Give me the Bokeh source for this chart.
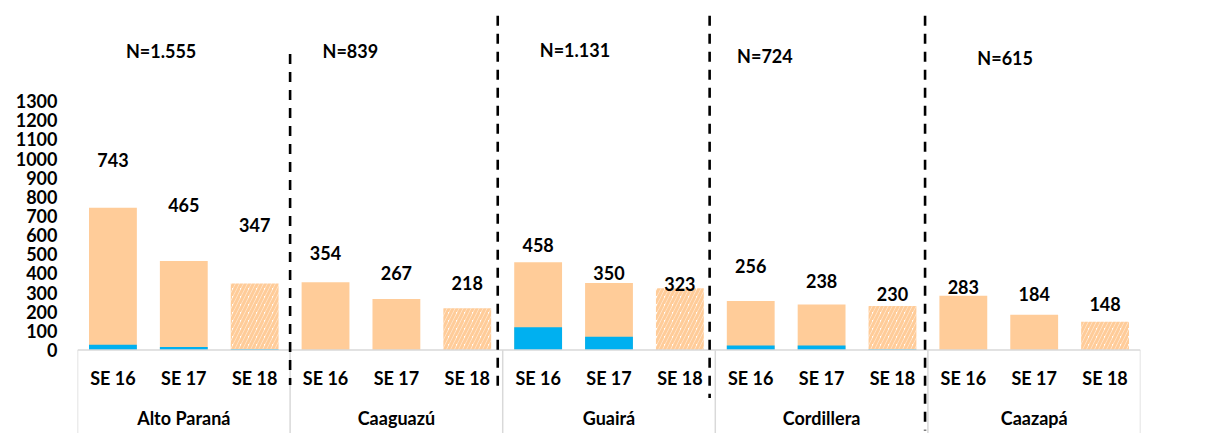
from bokeh.plotting import figure
from bokeh.models import FactorRange, ColumnDataSource, FixedTicker, Range1d
from bokeh.core.properties import value
from bokeh.embed import file_html
from bokeh.resources import INLINE

# ---------------- data ----------------
regions = ["Alto Paraná", "Caaguazú", "Guairá", "Cordillera", "Caazapá"]
weeks = ["SE 16", "SE 17", "SE 18"]
totals = [743, 465, 347, 354, 267, 218, 458, 350, 323, 256, 238, 230, 283, 184, 148]
blue_part = [28, 16, 5, 0, 0, 0, 119, 69, 0, 24, 24, 4, 0, 0, 0]
n_labels = ["N=1.555", "N=839", "N=1.131", "N=724", "N=615"]
y_ticks = [0, 100, 200, 300, 400, 500, 600, 700, 800, 900, 1000, 1100, 1200, 1300]

# ---------------- layout / style (not data) ----------------
label_y = [992, 757, 653, 508, 402, 351, 548, 404, 345, 441, 360, 292, 329, 292, 240]
n_offset = [0.68, 0.35, 0.52, 0.2, 0.59]
n_y = [1561, 1561, 1567, 1535, 1525]
dash_offset = [0.5, 0.43, 0.42, 0.46]
dash_top = [1546, 1745, 1745, 1745]
dash_bottom = [-183, -198, -251, -420]

ORANGE = "#FFCC99"
BLUE = "#00B0F0"
GREY = "#D9D9D9"
FONT = value("Lato")
FS = "18px"

factors = [(r, w) for r in regions for w in weeks]

Y_END = 1825.1
Y_START = -436.0

p = figure(
    width=1230, height=433,
    x_range=FactorRange(factors=factors, factor_padding=0, group_padding=0, range_padding=0),
    y_range=Range1d(Y_START, Y_END),
    output_backend="svg", toolbar_location=None,
    x_axis_location=None,
    min_border_left=77, min_border_right=90, min_border_top=0, min_border_bottom=0,
)
p.outline_line_color = None
p.grid.visible = False
p.background_fill_color = "white"
p.border_fill_color = "white"

# y axis
ya = p.yaxis[0]
ya.ticker = FixedTicker(ticks=y_ticks)
ya.axis_line_color = None
ya.major_tick_line_color = None
ya.minor_tick_line_color = None
ya.major_tick_out = 0
ya.major_tick_in = 0
ya.major_label_standoff = 20
ya.major_label_text_font = "Lato"
ya.major_label_text_font_style = "bold"
ya.major_label_text_font_size = FS
ya.major_label_text_color = "black"

# bars
solid_idx = [i for i, f in enumerate(factors) if f[1] != "SE 18"]
hatch_idx = [i for i, f in enumerate(factors) if f[1] == "SE 18"]

src_solid = ColumnDataSource(dict(x=[factors[i] for i in solid_idx], top=[totals[i] for i in solid_idx]))
src_hatch = ColumnDataSource(dict(x=[factors[i] for i in hatch_idx], top=[totals[i] for i in hatch_idx]))
src_blue = ColumnDataSource(dict(x=factors, top=blue_part))

BW = 0.675
p.vbar(x="x", top="top", bottom=0, width=BW, source=src_solid, fill_color=ORANGE, line_color=None)
p.vbar(x="x", top="top", bottom=0, width=BW, source=src_hatch, fill_color="white", line_color=None,
       hatch_pattern="right_diagonal_line", hatch_color=ORANGE, hatch_scale=8, hatch_weight=3.2)
p.vbar(x="x", top="top", bottom=0, width=BW, source=src_blue, fill_color=BLUE, line_color=None)

# value labels
src_lab = ColumnDataSource(dict(x=factors, y=label_y, t=[str(v) for v in totals]))
p.text(x="x", y="y", text="t", source=src_lab, text_align="center", text_baseline="middle",
       text_font=FONT, text_font_style="bold", text_font_size=FS, text_color="black")

# N labels
src_n = ColumnDataSource(dict(x=[(r, "SE 16", o) for r, o in zip(regions, n_offset)], y=n_y, t=n_labels))
p.text(x="x", y="y", text="t", source=src_n, text_align="center", text_baseline="middle",
       text_font=FONT, text_font_style="bold", text_font_size=FS, text_color="black")

# category axis drawn by hand: baseline, separators, labels
p.segment(x0=[(regions[0], weeks[0], -0.5)], y0=[0], x1=[(regions[-1], weeks[-1], 0.5)], y1=[0],
          line_color=GREY, line_width=1.5)
sep_x = [(r, weeks[0], -0.5) for r in regions] + [(regions[-1], weeks[-1], 0.5)]
p.segment(x0=sep_x, y0=[0] * len(sep_x), x1=sep_x, y1=[Y_START - 50] * len(sep_x),
          line_color=GREY, line_width=1.5)

src_se = ColumnDataSource(dict(x=factors, y=[0] * len(factors), t=[f[1] for f in factors]))
p.text(x="x", y="y", text="t", source=src_se, text_align="center", text_baseline="middle",
       y_offset=28, text_font=FONT, text_font_style="bold", text_font_size=FS, text_color="black")
src_g = ColumnDataSource(dict(x=regions, y=[0] * len(regions), t=regions))
p.text(x="x", y="y", text="t", source=src_g, text_align="center", text_baseline="middle",
       y_offset=68, text_font=FONT, text_font_style="bold", text_font_size=FS, text_color="black")

# dashed separators
dx = [(r, weeks[-1], o) for r, o in zip(regions[:-1], dash_offset)]
p.segment(x0=dx, y0=dash_top, x1=dx, y1=dash_bottom, line_color="black", line_width=2.6,
          line_dash="10 8")

open("out.html", "w").write(file_html(p, INLINE))
